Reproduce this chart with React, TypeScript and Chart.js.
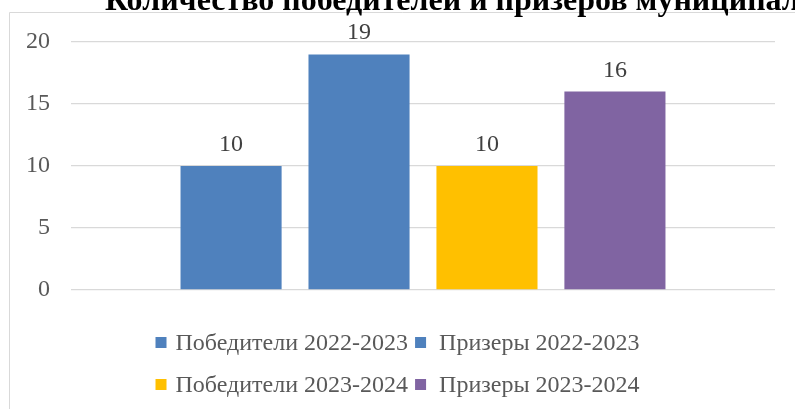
import React, { useEffect, useRef } from "react";
import { Chart, registerables } from "chart.js";

Chart.register(...registerables);

const categories = [""];
const seriesLabels = [
  "Победители 2022-2023",
  "Призеры 2022-2023",
  "Победители 2023-2024",
  "Призеры 2023-2024",
];
const seriesValues = [10, 19, 10, 16];
const seriesColors = ["#4F81BD", "#4F81BD", "#FFC000", "#8064A2"];
const yTickValues = [0, 5, 10, 15, 20];
const titleText = "Количество победителей и призеров муниципального этапа";

const SERIF = "'Liberation Serif', 'Times New Roman', serif";

const decorPlugin = {
  id: "decor",
  beforeDraw(chart: any) {
    const ctx = chart.ctx as CanvasRenderingContext2D;
    ctx.save();
    ctx.fillStyle = "#ffffff";
    ctx.fillRect(0, 0, chart.width, chart.height);
    ctx.strokeStyle = "#D9D9D9";
    ctx.lineWidth = 1;
    ctx.beginPath();
    ctx.moveTo(9.5, chart.height + 5);
    ctx.lineTo(9.5, 12.5);
    ctx.lineTo(chart.width + 5, 12.5);
    ctx.stroke();
    ctx.fillStyle = "#000000";
    ctx.font = `bold 32px ${SERIF}`;
    ctx.textAlign = "left";
    ctx.textBaseline = "alphabetic";
    ctx.fillText(titleText, 105, 10);
    ctx.restore();
  },
  afterDatasetsDraw(chart: any) {
    const ctx = chart.ctx as CanvasRenderingContext2D;
    ctx.save();
    ctx.fillStyle = "#404040";
    ctx.font = `24px ${SERIF}`;
    ctx.textAlign = "center";
    ctx.textBaseline = "alphabetic";
    chart.data.datasets.forEach((ds: any, i: number) => {
      const meta = chart.getDatasetMeta(i);
      meta.data.forEach((el: any, j: number) => {
        ctx.fillText(String(ds.data[j]), el.x, el.y - 15);
      });
    });
    ctx.restore();
  },
  afterDraw(chart: any) {
    const ctx = chart.ctx as CanvasRenderingContext2D;
    const area = chart.chartArea;
    ctx.save();
    ctx.font = `24px ${SERIF}`;
    ctx.textAlign = "left";
    ctx.textBaseline = "alphabetic";
    const ds = chart.data.datasets;
    const box = 11;
    const gaps = [9, 13];
    const sep = 7;
    const cols = 2;
    const colW: number[] = [0, 0];
    ds.forEach((d: any, i: number) => {
      const w = ctx.measureText(d.label).width;
      colW[i % cols] = Math.max(colW[i % cols], w);
    });
    const total = box + gaps[0] + colW[0] + sep + box + gaps[1] + colW[1];
    const startX = chart.width / 2 - total / 2;
    const colX = [startX, startX + box + gaps[0] + colW[0] + sep];
    const rowY = [area.bottom + 60, area.bottom + 102];
    ds.forEach((d: any, i: number) => {
      const c = i % cols;
      const r = Math.floor(i / cols);
      const x = colX[c];
      const y = rowY[r];
      ctx.fillStyle = d.backgroundColor;
      ctx.fillRect(x, y - 13, box, box);
      ctx.fillStyle = "#595959";
      ctx.fillText(d.label, x + box + gaps[c], y);
    });
    ctx.restore();
  },
};

export default function App() {
  const ref = useRef<HTMLCanvasElement | null>(null);

  useEffect(() => {
    if (!ref.current) return;
    const chart = new Chart(ref.current, {
      type: "bar",
      data: {
        labels: categories,
        datasets: seriesLabels.map((label, i) => ({
          label,
          data: [seriesValues[i]],
          backgroundColor: seriesColors[i],
          borderWidth: 0,
          categoryPercentage: 0.727,
          barPercentage: 0.79,
        })),
      },
      options: {
        animation: false,
        responsive: false,
        maintainAspectRatio: false,
        layout: { padding: { top: 42, right: 20, bottom: 119, left: 0 } },
        plugins: {
          legend: { display: false },
          title: { display: false },
          tooltip: { enabled: false },
        },
        scales: {
          x: { display: false },
          y: {
            min: 0,
            max: 20,
            afterFit: (scale: any) => {
              scale.width = 71;
            },
            afterBuildTicks: (scale: any) => {
              scale.ticks = yTickValues.map((v) => ({ value: v }));
            },
            border: { display: false },
            grid: { color: "#D9D9D9", lineWidth: 1.3, drawTicks: false },
            ticks: {
              padding: 21,
              color: "#595959",
              font: { family: SERIF, size: 24 },
            },
          },
        },
      },
      plugins: [decorPlugin],
    });
    return () => chart.destroy();
  }, []);

  return (
    <div style={{ position: "fixed", left: 0, top: 0, width: 795, height: 409, background: "#fff" }}>
      <canvas ref={ref} width={795} height={409} style={{ display: "block", width: 795, height: 409 }} />
    </div>
  );
}
